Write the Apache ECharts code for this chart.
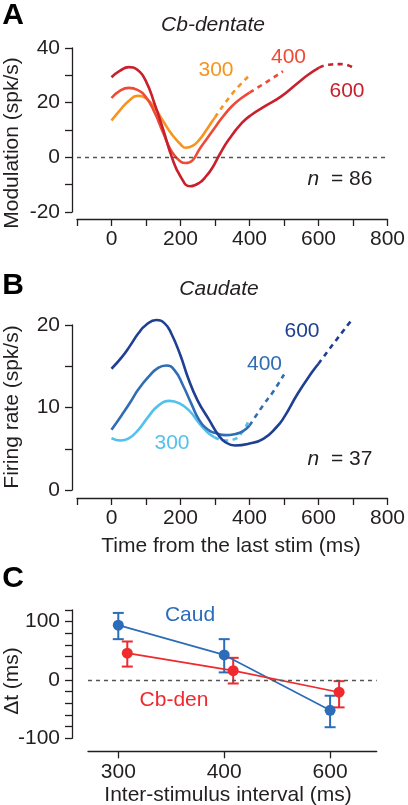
<!DOCTYPE html>
<html>
<head>
<meta charset="utf-8">
<script src="https://cdn.jsdelivr.net/npm/echarts@6/dist/echarts.min.js"></script>
<style>
html,body{margin:0;padding:0;background:#fff;}
#chart{width:408px;height:805px;}
</style>
</head>
<body>
<div id="chart"></div>
<script>
// ---------- Panel A: Cb-dentate (Modulation, spk/s) ----------
const a300SolidT = [0, 25, 50, 75, 100, 125, 150, 175, 200, 215, 235, 255, 275, 292, 300];
const a300SolidV = [13.5, 17.3, 20.6, 22.5, 21.6, 18.2, 13.2, 8.4, 4.8, 3.5, 4.2, 6.5, 10, 13.2, 14.6];
const a300DashT = [300, 350, 400];
const a300DashV = [14.6, 23.3, 30];

const a400SolidT = [0, 25, 50, 75, 100, 125, 150, 175, 200, 215, 235, 254, 275, 302, 325, 349, 375, 400];
const a400SolidV = [21.7, 24.4, 25.4, 24.7, 22, 16.4, 8.9, 2, -1.5, -2.1, -1.1, 2.8, 6.5, 11.3, 15.2, 18.7, 21.5, 23.7];
const a400DashT = [400, 445, 497];
const a400DashV = [23.7, 27.2, 31.5];

const a600SolidT = [0, 25, 50, 75, 100, 125, 150, 175, 200, 228, 255, 275, 292, 315, 340, 378, 406, 445, 492, 540, 570, 602];
const a600SolidV = [29.3, 31.7, 33, 32, 27.8, 19.5, 10.1, 0, -7, -10.6, -9.3, -6.8, -3.9, 1.4, 6.5, 12.6, 15.6, 18.7, 22.3, 27.2, 30.2, 32.8];
const a600DashT = [602, 630, 665, 698];
const a600DashV = [32.8, 33.9, 34.1, 33];

// ---------- Panel B: Caudate (Firing rate, spk/s) ----------
const b600SolidT = [0, 30, 54, 78, 100, 130, 154, 173, 200, 221, 249, 283, 311, 330, 358, 397, 440, 480, 500, 540, 580, 600];
const b600SolidV = [14.7, 16.1, 17.5, 19, 20, 20.6, 20.2, 19, 16.3, 13.7, 10.9, 8.5, 6.6, 5.8, 5.4, 5.6, 6.2, 7.7, 8.8, 11.7, 14.2, 15.3];
const b600DashT = [600, 650, 700];
const b600DashV = [15.3, 18.1, 20.8];

const b400SolidT = [0, 30, 54, 78, 107, 135, 159, 183, 207, 231, 254, 280, 302, 330, 360, 380, 400];
const b400SolidV = [7.3, 9.1, 10.6, 12.2, 13.7, 14.8, 15.1, 14.5, 12.7, 10.5, 8.5, 7.3, 6.9, 6.65, 6.8, 7.1, 7.8];
const b400DashT = [400, 440, 470, 500];
const b400DashV = [7.8, 10.3, 12, 14];

const b300SolidT = [0, 26, 50, 78, 107, 135, 168, 197, 226, 254, 278, 298];
const b300SolidV = [6.3, 6, 6.25, 7.3, 8.9, 10.2, 10.8, 10.5, 9.6, 8.1, 7, 6.4];
const b300DashT = [298, 330, 359, 380, 397];
const b300DashV = [6.4, 6.0, 6.2, 7.1, 8.3];

// ---------- Panel C: Δt vs inter-stimulus interval ----------
const isiCategories = ['300', '400', '600'];
const caudMean  = [94, 43, -52];
const caudUpper = [115, 70, -27];
const caudLower = [70, 13, -81];
const cbMean  = [46, 16, -21];
const cbUpper = [66, 38, -2];
const cbLower = [23, -6, -47];

// ---------- Tick labels ----------
const timeTickLabels = [0, 200, 400, 600, 800];
const modTickLabels = [-20, 0, 20, 40];
const rateTickLabels = [0, 10, 20];
const dtTickLabels = [-100, 0, 100];

// ---------- styling ----------
const FONT = "'Liberation Sans', Arial, Helvetica, sans-serif";
const FS = 21;
const INK = '#231F20';
const C_A300 = '#F7941D', C_A400 = '#EF4A36', C_A600 = '#C8202C';
const C_B600 = '#1E3F92', C_B400 = '#2F6DB5', C_B300 = '#53C1EC';
const C_BLUE = '#2B6DB8', C_RED = '#EE2A2E';
const DODGE = 0.085;

function pairs(t, v) { return t.map((x, i) => [x, v[i]]); }

function xTimeAxis(gi, offset) {
  return {
    gridIndex: gi, type: 'value', min: -100, max: 800, interval: 100, offset: offset,
    axisLine: { show: true, onZero: false, lineStyle: { color: INK, width: 1.3 } },
    axisTick: { show: true, length: 7, lineStyle: { color: INK, width: 1.3 } },
    axisLabel: { fontSize: FS, fontFamily: FONT, color: INK, margin: 10,
      formatter: v => timeTickLabels.includes(v) ? String(v) : '' },
    splitLine: { show: false }
  };
}
function yAxisDef(gi, min, max, interval, labels, offset) {
  return {
    gridIndex: gi, type: 'value', min: min, max: max, interval: interval, offset: offset,
    axisLine: { show: true, onZero: false, lineStyle: { color: INK, width: 1.3 } },
    axisTick: { show: true, length: 7, lineStyle: { color: INK, width: 1.3 } },
    axisLabel: { fontSize: FS, fontFamily: FONT, color: INK, margin: 12,
      formatter: v => labels.includes(v) ? String(v) : '' },
    splitLine: { show: false }
  };
}
function curve(gi, t, v, color, dashed) {
  return {
    type: 'line', xAxisIndex: gi, yAxisIndex: gi, data: pairs(t, v),
    smooth: 0.5, showSymbol: false, symbol: 'none', silent: true, clip: false,
    lineStyle: { color: color, width: 2.6, type: dashed ? [5, 4.5] : 'solid', cap: 'butt' },
    z: 3
  };
}
const zeroLine = {
  silent: true, symbol: 'none', label: { show: false },
  lineStyle: { type: [4, 4], color: '#555', width: 1.3 },
  data: [{ yAxis: 0 }]
};

function errData(mean, lo, hi, dx) {
  return mean.map((m, i) => [i + dx, lo[i], hi[i]]);
}
function errSeries(data, color) {
  return {
    type: 'custom', xAxisIndex: 2, yAxisIndex: 2, data: data, silent: true, z: 2, clip: false,
    encode: { x: 0, y: [1, 2] },
    renderItem: function (params, api) {
      const x = api.value(0);
      const top = api.coord([x, api.value(2)]);
      const bot = api.coord([x, api.value(1)]);
      const hw = 5.5;
      const st = { stroke: color, lineWidth: 2 };
      return {
        type: 'group',
        children: [
          { type: 'line', shape: { x1: top[0], y1: top[1], x2: bot[0], y2: bot[1] }, style: st },
          { type: 'line', shape: { x1: top[0] - hw, y1: top[1], x2: top[0] + hw, y2: top[1] }, style: st },
          { type: 'line', shape: { x1: bot[0] - hw, y1: bot[1], x2: bot[0] + hw, y2: bot[1] }, style: st }
        ]
      };
    }
  };
}
function pointSeries(mean, dx, color) {
  return {
    type: 'line', xAxisIndex: 2, yAxisIndex: 2, silent: true, z: 3,
    data: mean.map((m, i) => [i + dx, m]),
    symbol: 'circle', symbolSize: 11, showSymbol: true,
    lineStyle: { color: color, width: 1.7 },
    itemStyle: { color: color, borderWidth: 0 }
  };
}

function txt(x, y, text, color, opts) {
  opts = opts || {};
  return {
    type: 'text', x: x, y: y, rotation: opts.rotation || 0, silent: true, z: 10,
    style: {
      text: text, fill: color,
      fontSize: opts.size || FS, fontFamily: FONT,
      fontWeight: opts.bold ? 'bold' : 'normal',
      fontStyle: opts.italic ? 'italic' : 'normal',
      align: 'center', verticalAlign: 'middle',
      textAlign: 'center', textVerticalAlign: 'middle',
      rich: opts.rich
    }
  };
}
const nRich = { i: { fontStyle: 'italic', fontSize: FS, fontFamily: FONT, fill: INK, color: INK } };

const option = {
  animation: false,
  backgroundColor: '#fff',
  grid: [
    { left: 77, right: 18, top: 48, height: 164 },
    { left: 77, right: 18, top: 325, height: 165 },
    { left: 88, right: 31.3, top: 610, height: 128.3 }
  ],
  xAxis: [
    xTimeAxis(0, 7),
    xTimeAxis(1, 8),
    {
      gridIndex: 2, type: 'value', min: -0.286, max: 2.44, offset: 13,
      axisLine: { show: true, onZero: false, lineStyle: { color: INK, width: 1.3 } },
      axisTick: { show: true, length: 7, customValues: [0, 1, 2], lineStyle: { color: INK, width: 1.3 } },
      axisLabel: { fontSize: FS, fontFamily: FONT, color: INK, margin: 10, customValues: [0, 1, 2],
        formatter: v => isiCategories[Math.round(v)] },
      splitLine: { show: false }
    }
  ],
  yAxis: [
    yAxisDef(0, -20, 40, 10, modTickLabels, 5),
    yAxisDef(1, 0, 20, 5, rateTickLabels, 5),
    yAxisDef(2, -100, 120, 20, dtTickLabels, 16)
  ],
  series: [
    Object.assign(curve(0, a300SolidT, a300SolidV, C_A300, false), { markLine: zeroLine }),
    curve(0, a300DashT, a300DashV, C_A300, true),
    curve(0, a400SolidT, a400SolidV, C_A400, false),
    curve(0, a400DashT, a400DashV, C_A400, true),
    curve(0, a600SolidT, a600SolidV, C_A600, false),
    curve(0, a600DashT, a600DashV, C_A600, true),

    curve(1, b300SolidT, b300SolidV, C_B300, false),
    curve(1, b300DashT, b300DashV, C_B300, true),
    curve(1, b400SolidT, b400SolidV, C_B400, false),
    curve(1, b400DashT, b400DashV, C_B400, true),
    curve(1, b600SolidT, b600SolidV, C_B600, false),
    curve(1, b600DashT, b600DashV, C_B600, true),

    Object.assign(errSeries(errData(caudMean, caudLower, caudUpper, 0), C_BLUE), { markLine: zeroLine }),
    pointSeries(caudMean, 0, C_BLUE),
    errSeries(errData(cbMean, cbLower, cbUpper, DODGE), C_RED),
    pointSeries(cbMean, DODGE, C_RED)
  ],
  graphic: [
    txt(13, 16, 'A', '#000', { size: 30, bold: true }),
    txt(13, 286, 'B', '#000', { size: 30, bold: true }),
    txt(13, 579, 'C', '#000', { size: 30, bold: true }),
    txt(213, 25, 'Cb-dentate', INK, { italic: true }),
    txt(219, 289, 'Caudate', INK, { italic: true }),
    txt(12, 143, 'Modulation (spk/s)', INK, { rotation: Math.PI / 2 }),
    txt(12, 407, 'Firing rate (spk/s)', INK, { rotation: Math.PI / 2 }),
    txt(12, 681, 'Δt (ms)', INK, { rotation: Math.PI / 2 }),
    txt(231, 546, 'Time from the last stim (ms)', INK),
    txt(228, 795, 'Inter-stimulus interval (ms)', INK),
    txt(216, 70, '300', C_A300),
    txt(288.5, 57, '400', C_A400),
    txt(347, 91, '600', C_A600),
    txt(340, 179, '{i|n}  = 86', INK, { rich: nRich }),
    txt(302, 331.5, '600', C_B600),
    txt(264.5, 364.5, '400', C_B400),
    txt(172, 443.5, '300', C_B300),
    txt(340, 459.5, '{i|n}  = 37', INK, { rich: nRich }),
    txt(190, 615, 'Caud', C_BLUE),
    txt(174, 700, 'Cb-den', C_RED)
  ]
};

const chart = echarts.init(document.getElementById('chart'), null, { renderer: 'canvas' });
chart.setOption(option);
</script>
</body>
</html>
